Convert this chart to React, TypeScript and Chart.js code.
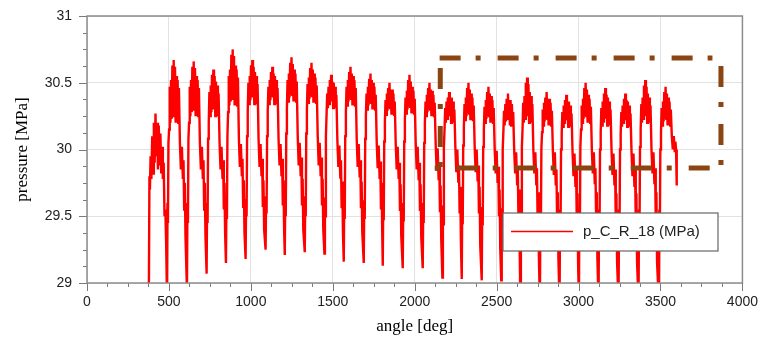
import React, { useEffect, useRef } from "react";
import { Chart, registerables } from "chart.js";

Chart.register(...registerables);

// ---- data ----
const xTickStep = 500;
const yTickStep = 0.5;
const xMin = 0;
const xMax = 4000;
const yMin = 29;
const yMax = 31;

const seriesLabel = "p_C_R_18 (MPa)";

// initial hump before the first full cycle
const leadAngles = [370, 378, 381, 384, 388, 393, 398, 403, 408, 413, 418, 423, 428, 433, 438, 443, 448, 453, 458, 463, 468, 473, 478, 483];
const leadPressures = [28.9, 29.02, 29.8, 29.7, 29.95, 29.78, 30.1, 29.82, 30.2, 29.9, 30.27, 29.95, 30.2, 29.85, 30.18, 29.88, 30.12, 29.82, 30.02, 29.78, 29.9, 29.5, 29.55, 29.3];

// angle of each cycle's trough
const cycleTroughAngles = [488, 610, 730, 848, 968, 1090, 1207, 1329, 1449, 1567, 1689, 1805, 1927, 2049, 2169, 2287, 2409, 2528, 2645, 2764, 2884, 3002, 3122, 3244, 3366, 3490];

// sample positions inside a cycle, in degrees after the trough
const cycleSampleOffsets = [0, 3, 6, 9, 13, 17, 21, 25, 29, 33, 37, 41, 45, 49, 53, 57, 61, 65, 69, 73, 79, 85, 91, 97, 101, 105, 109, 113];

// pressure samples of each cycle
const cyclePressures = [
  [28.9, 29.6, 29.45, 30.05, 30.15, 30.47, 30.2, 30.52, 30.23, 30.63, 30.25, 30.67, 30.25, 30.62, 30.2, 30.55, 30.2, 30.52, 30.2, 30.46, 30.05, 29.85, 30.02, 29.78, 29.92, 29.55, 29.75, 29.35],
  [28.95, 29.6, 29.45, 30.08, 30.2, 30.47, 30.25, 30.52, 30.28, 30.62, 30.3, 30.66, 30.3, 30.61, 30.25, 30.55, 30.25, 30.52, 30.25, 30.46, 30.05, 29.85, 30.02, 29.78, 29.92, 29.55, 29.75, 29.35],
  [29.07, 29.6, 29.45, 30.08, 30.2, 30.43, 30.25, 30.48, 30.28, 30.56, 30.3, 30.6, 30.3, 30.55, 30.25, 30.51, 30.25, 30.48, 30.25, 30.42, 30.05, 29.85, 30.02, 29.78, 29.92, 29.55, 29.75, 29.37],
  [29.15, 29.62, 29.48, 30.1, 30.28, 30.55, 30.33, 30.6, 30.36, 30.71, 30.38, 30.75, 30.38, 30.7, 30.33, 30.63, 30.33, 30.6, 30.33, 30.54, 30.08, 29.87, 30.04, 29.8, 29.93, 29.57, 29.77, 29.38],
  [29.18, 29.63, 29.5, 30.1, 30.29, 30.5, 30.34, 30.55, 30.37, 30.63, 30.39, 30.67, 30.39, 30.62, 30.34, 30.58, 30.34, 30.55, 30.34, 30.49, 30.08, 29.87, 30.04, 29.8, 29.93, 29.57, 29.77, 29.4],
  [29.25, 29.65, 29.52, 30.1, 30.29, 30.47, 30.34, 30.52, 30.37, 30.58, 30.39, 30.62, 30.39, 30.57, 30.34, 30.55, 30.34, 30.52, 30.34, 30.46, 30.08, 29.88, 30.04, 29.8, 29.93, 29.58, 29.77, 29.4],
  [29.21, 29.65, 29.5, 30.12, 30.31, 30.52, 30.36, 30.57, 30.39, 30.65, 30.41, 30.69, 30.41, 30.64, 30.36, 30.6, 30.36, 30.57, 30.36, 30.51, 30.1, 29.88, 30.05, 29.8, 29.94, 29.58, 29.78, 29.4],
  [29.23, 29.65, 29.5, 30.12, 30.3, 30.49, 30.35, 30.54, 30.38, 30.61, 30.4, 30.65, 30.4, 30.6, 30.35, 30.57, 30.35, 30.54, 30.35, 30.48, 30.1, 29.88, 30.05, 29.8, 29.94, 29.58, 29.78, 29.4],
  [29.22, 29.64, 29.5, 30.1, 30.26, 30.42, 30.31, 30.47, 30.34, 30.52, 30.36, 30.56, 30.36, 30.51, 30.31, 30.5, 30.31, 30.47, 30.31, 30.41, 30.07, 29.87, 30.03, 29.79, 29.92, 29.56, 29.76, 29.38],
  [29.16, 29.63, 29.48, 30.1, 30.28, 30.47, 30.33, 30.52, 30.36, 30.58, 30.38, 30.62, 30.38, 30.57, 30.33, 30.55, 30.33, 30.52, 30.33, 30.46, 30.08, 29.87, 30.04, 29.79, 29.92, 29.56, 29.76, 29.38],
  [29.15, 29.62, 29.48, 30.08, 30.25, 30.42, 30.3, 30.47, 30.33, 30.53, 30.35, 30.57, 30.35, 30.52, 30.3, 30.5, 30.3, 30.47, 30.3, 30.41, 30.06, 29.86, 30.03, 29.78, 29.91, 29.55, 29.75, 29.36],
  [29.13, 29.62, 29.47, 30.06, 30.21, 30.37, 30.26, 30.42, 30.29, 30.46, 30.31, 30.5, 30.31, 30.45, 30.26, 30.45, 30.26, 30.42, 30.26, 30.36, 30.05, 29.85, 30.02, 29.78, 29.9, 29.54, 29.74, 29.35],
  [29.11, 29.6, 29.46, 30.06, 30.22, 30.39, 30.27, 30.44, 30.3, 30.52, 30.32, 30.56, 30.32, 30.51, 30.27, 30.47, 30.27, 30.44, 30.27, 30.38, 30.05, 29.85, 30.02, 29.77, 29.9, 29.54, 29.74, 29.34],
  [29.11, 29.6, 29.45, 30.05, 30.2, 30.36, 30.25, 30.41, 30.28, 30.46, 30.3, 30.5, 30.3, 30.45, 30.25, 30.44, 30.25, 30.41, 30.25, 30.35, 30.04, 29.84, 30.01, 29.77, 29.89, 29.53, 29.73, 29.32],
  [29.04, 29.58, 29.44, 30.02, 30.15, 30.31, 30.2, 30.36, 30.23, 30.39, 30.25, 30.43, 30.25, 30.38, 30.2, 30.39, 30.2, 30.36, 30.2, 30.3, 30.02, 29.83, 30.0, 29.76, 29.88, 29.52, 29.72, 29.3],
  [29.03, 29.58, 29.44, 30.03, 30.17, 30.34, 30.22, 30.39, 30.25, 30.46, 30.27, 30.5, 30.27, 30.45, 30.22, 30.42, 30.22, 30.39, 30.22, 30.33, 30.02, 29.83, 30.0, 29.76, 29.88, 29.52, 29.72, 29.28],
  [29.02, 29.57, 29.43, 30.02, 30.15, 30.32, 30.2, 30.37, 30.23, 30.43, 30.25, 30.47, 30.25, 30.42, 30.2, 30.4, 30.2, 30.37, 30.2, 30.31, 30.01, 29.82, 29.99, 29.75, 29.87, 29.5, 29.7, 29.26],
  [29.02, 29.56, 29.42, 30.0, 30.13, 30.29, 30.18, 30.34, 30.21, 30.38, 30.23, 30.42, 30.23, 30.37, 30.18, 30.37, 30.18, 30.34, 30.18, 30.28, 30.0, 29.82, 29.98, 29.74, 29.86, 29.5, 29.7, 29.22],
  [28.85, 29.55, 29.4, 30.02, 30.15, 30.35, 30.2, 30.4, 30.23, 30.5, 30.25, 30.54, 30.25, 30.49, 30.2, 30.43, 30.2, 30.4, 30.2, 30.34, 30.0, 29.82, 29.98, 29.74, 29.86, 29.48, 29.68, 29.18],
  [28.85, 29.55, 29.4, 30.0, 30.13, 30.3, 30.18, 30.35, 30.21, 30.39, 30.23, 30.43, 30.23, 30.38, 30.18, 30.38, 30.18, 30.35, 30.18, 30.29, 30.0, 29.81, 29.98, 29.73, 29.85, 29.48, 29.68, 29.18],
  [28.85, 29.55, 29.4, 30.0, 30.12, 30.28, 30.17, 30.33, 30.2, 30.37, 30.22, 30.41, 30.22, 30.36, 30.17, 30.36, 30.17, 30.33, 30.17, 30.27, 29.99, 29.8, 29.97, 29.72, 29.85, 29.47, 29.67, 29.16],
  [28.85, 29.55, 29.4, 30.02, 30.15, 30.33, 30.2, 30.38, 30.23, 30.46, 30.25, 30.5, 30.25, 30.45, 30.2, 30.41, 30.2, 30.38, 30.2, 30.32, 30.0, 29.82, 29.98, 29.74, 29.86, 29.48, 29.68, 29.18],
  [28.85, 29.55, 29.4, 30.0, 30.13, 30.31, 30.18, 30.36, 30.21, 30.42, 30.23, 30.46, 30.23, 30.41, 30.18, 30.39, 30.18, 30.36, 30.18, 30.3, 30.0, 29.81, 29.97, 29.73, 29.85, 29.47, 29.67, 29.16],
  [28.85, 29.55, 29.4, 30.0, 30.12, 30.28, 30.17, 30.33, 30.2, 30.38, 30.22, 30.42, 30.22, 30.37, 30.17, 30.36, 30.17, 30.33, 30.17, 30.27, 29.99, 29.8, 29.97, 29.72, 29.85, 29.47, 29.67, 29.16],
  [28.85, 29.55, 29.4, 30.02, 30.15, 30.34, 30.2, 30.39, 30.23, 30.48, 30.25, 30.52, 30.25, 30.47, 30.2, 30.42, 30.2, 30.39, 30.2, 30.33, 30.0, 29.82, 29.98, 29.74, 29.86, 29.48, 29.68, 29.16],
  [28.85, 29.55, 29.4, 30.0, 30.13, 30.31, 30.18, 30.36, 30.21, 30.43, 30.23, 30.47, 30.23, 30.42, 30.18, 30.39, 30.18, 30.36, 30.18, 30.3, 30.1, 30.0, 30.1, 29.98, 30.06, 30.0, 29.73],
];

// highlighted region (dash-dot box), in data units
const boxTop = { x0: 2152, x1: 3817, y: 30.685 };
const boxBottom = { x0: 2122, x1: 3878, y: 29.861 };
const boxLeft = { x: 2156, y0: 30.61, y1: 29.861 };
const boxRight = { x: 3869, y0: 30.625, y1: 29.869 };

const SANS = "'Liberation Sans', Arial, sans-serif";
const SERIF = "'Liberation Serif', 'Times New Roman', serif";

function buildPoints() {
  const pts: { x: number; y: number }[] = [];
  leadAngles.forEach((a, i) => pts.push({ x: a, y: leadPressures[i] }));
  cycleTroughAngles.forEach((t, c) => {
    cyclePressures[c].forEach((p, j) => pts.push({ x: t + cycleSampleOffsets[j], y: p }));
  });
  return pts;
}

const overlayPlugin = {
  id: "overlay",
  afterDatasetsDraw(chart: any) {
    const { ctx, chartArea: ca, scales } = chart;
    const xs = scales.x;
    const ys = scales.y;
    ctx.save();

    // tick marks (major + minor), outside the plot
    ctx.strokeStyle = "#7a7a7a";
    ctx.lineWidth = 1;
    const xMinorStep = xTickStep / 4;
    const nx = Math.round((xMax - xMin) / xMinorStep);
    for (let k = 0; k <= nx; k++) {
      const px = Math.round(xs.getPixelForValue(xMin + k * xMinorStep)) + 0.5;
      const len = k % 4 === 0 ? 8 : 4;
      ctx.beginPath();
      ctx.moveTo(px, ca.bottom);
      ctx.lineTo(px, ca.bottom + len);
      ctx.stroke();
    }
    const yMinorStep = yTickStep / 4;
    const ny = Math.round((yMax - yMin) / yMinorStep);
    for (let k = 0; k <= ny; k++) {
      const py = Math.round(ys.getPixelForValue(yMin + k * yMinorStep)) + 0.5;
      const len = k % 4 === 0 ? 8 : 4;
      ctx.beginPath();
      ctx.moveTo(ca.left, py);
      ctx.lineTo(ca.left - len, py);
      ctx.stroke();
    }

    // frame
    ctx.strokeStyle = "#8c8c8c";
    ctx.lineWidth = 1.5;
    ctx.strokeRect(ca.left, ca.top, ca.right - ca.left, ca.bottom - ca.top);

    // dash-dot highlight box
    ctx.strokeStyle = "#8B4513";
    ctx.lineWidth = 5;
    ctx.lineCap = "butt";
    ctx.setLineDash([21, 15, 5, 17]);
    const seg = (x0: number, y0: number, x1: number, y1: number, off: number) => {
      ctx.lineDashOffset = off;
      ctx.beginPath();
      ctx.moveTo(xs.getPixelForValue(x0), ys.getPixelForValue(y0));
      ctx.lineTo(xs.getPixelForValue(x1), ys.getPixelForValue(y1));
      ctx.stroke();
    };
    seg(boxTop.x0, boxTop.y, boxTop.x1, boxTop.y, 0);
    seg(boxBottom.x0, boxBottom.y, boxBottom.x1, boxBottom.y, 36);
    seg(boxLeft.x, boxLeft.y0, boxLeft.x, boxLeft.y1, 0);
    seg(boxRight.x, boxRight.y0, boxRight.x, boxRight.y1, 0);
    ctx.setLineDash([]);

    // legend box inside the plot
    const lx = ca.left + 416;
    const ly = ca.top + 197;
    const lw = 215;
    const lh = 38;
    ctx.fillStyle = "#ffffff";
    ctx.fillRect(lx, ly, lw, lh);
    ctx.strokeStyle = "#666666";
    ctx.lineWidth = 1.2;
    ctx.strokeRect(lx, ly, lw, lh);
    ctx.strokeStyle = "#ff0000";
    ctx.lineWidth = 1.5;
    ctx.beginPath();
    ctx.moveTo(lx + 8, ly + 18.5);
    ctx.lineTo(lx + 70, ly + 18.5);
    ctx.stroke();
    ctx.fillStyle = "#222222";
    ctx.font = `15px ${SANS}`;
    ctx.textAlign = "left";
    ctx.textBaseline = "middle";
    ctx.fillText(seriesLabel, lx + 80, ly + 19);

    ctx.restore();
  },
};

export default function App() {
  const canvasRef = useRef<HTMLCanvasElement | null>(null);

  useEffect(() => {
    document.body.style.margin = "0";
    const canvas = canvasRef.current;
    if (!canvas) return;
    const chart = new Chart(canvas, {
      type: "line",
      data: {
        datasets: [
          {
            label: seriesLabel,
            data: buildPoints(),
            borderColor: "#ff0000",
            borderWidth: 2.4,
            pointRadius: 0,
            tension: 0,
            fill: false,
          },
        ],
      },
      options: {
        animation: false,
        responsive: true,
        maintainAspectRatio: false,
        layout: { padding: { top: 16, right: 18, left: 0, bottom: 0 } },
        plugins: { legend: { display: false }, tooltip: { enabled: false } },
        scales: {
          x: {
            type: "linear",
            min: xMin,
            max: xMax,
            ticks: {
              stepSize: xTickStep,
              autoSkip: false,
              maxRotation: 0,
              padding: 3,
              color: "#222",
              font: { family: SANS, size: 14 },
              callback: (v: any) => String(v),
            },
            grid: { color: "#e2e2e2", lineWidth: 1, tickColor: "transparent", tickLength: 8 },
            border: { display: false },
            title: {
              display: true,
              text: "angle [deg]",
              color: "#000",
              font: { family: SERIF, size: 17 },
              padding: { top: 0, bottom: 8 },
            },
            afterFit: (s: any) => {
              s.height = 62;
            },
          },
          y: {
            type: "linear",
            min: yMin,
            max: yMax,
            ticks: {
              stepSize: yTickStep,
              padding: 7,
              color: "#222",
              font: { family: SANS, size: 14 },
              callback: (v: any) => String(v),
            },
            grid: { color: "#e2e2e2", lineWidth: 1, tickColor: "transparent", tickLength: 8 },
            border: { display: false },
            title: {
              display: true,
              text: "pressure [MPa]",
              color: "#000",
              font: { family: SERIF, size: 17 },
              padding: { top: 12, bottom: 0 },
            },
            afterFit: (s: any) => {
              s.width = 87;
            },
          },
        },
      } as any,
      plugins: [overlayPlugin],
    });
    return () => chart.destroy();
  }, []);

  return (
    <div style={{ position: "relative", width: 761, height: 345 }}>
      <canvas ref={canvasRef} />
    </div>
  );
}
